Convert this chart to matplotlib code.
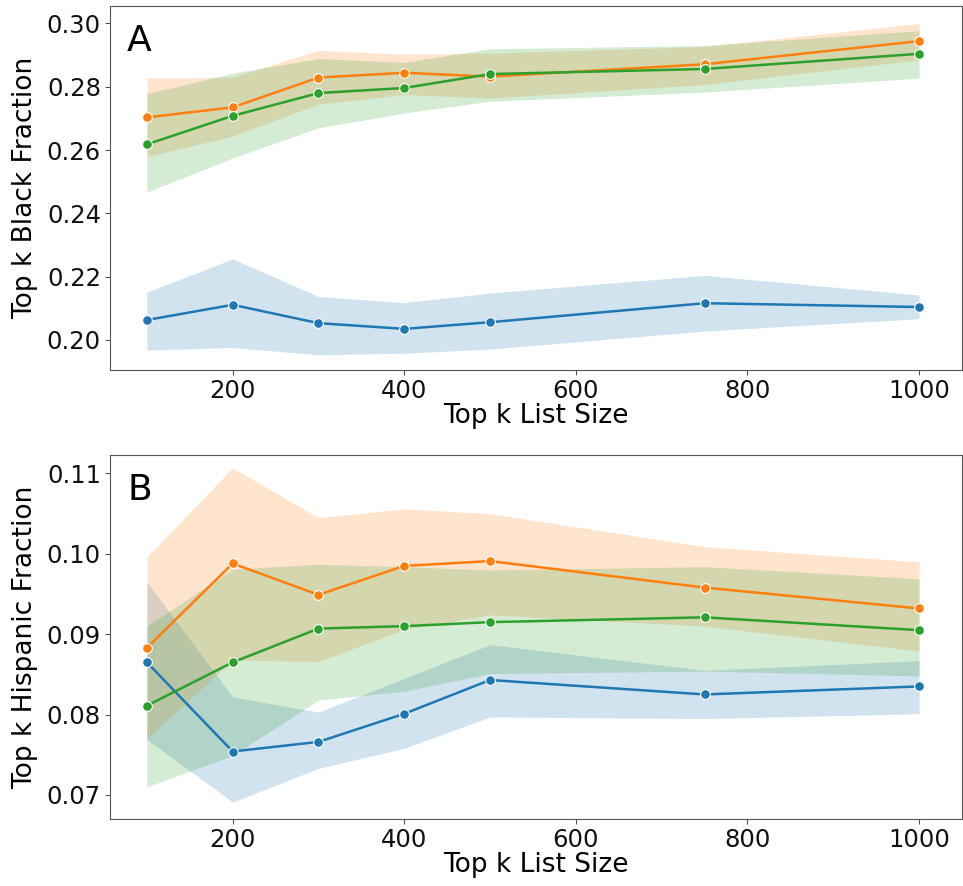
import numpy as np
import matplotlib
matplotlib.use("Agg")
import matplotlib.pyplot as plt

# Top k list sizes
k = [100, 200, 300, 400, 500, 750, 1000]

# Panel A: black fraction (mean, lower, upper)
blk_blue = [0.2063, 0.2111, 0.2053, 0.2035, 0.2056, 0.2116, 0.2104]
blk_blue_lo = [0.1968, 0.1976, 0.1953, 0.1958, 0.1971, 0.2028, 0.2067]
blk_blue_hi = [0.2151, 0.2256, 0.2137, 0.2118, 0.2148, 0.2204, 0.2142]

blk_orange = [0.2703, 0.2735, 0.2829, 0.2844, 0.2832, 0.2871, 0.2944]
blk_orange_lo = [0.2579, 0.2644, 0.2745, 0.2775, 0.2764, 0.2807, 0.2885]
blk_orange_hi = [0.2827, 0.2830, 0.2915, 0.2903, 0.2906, 0.2927, 0.3000]

blk_green = [0.2618, 0.2708, 0.2780, 0.2796, 0.2840, 0.2856, 0.2904]
blk_green_lo = [0.2467, 0.2575, 0.2670, 0.2717, 0.2754, 0.2783, 0.2827]
blk_green_hi = [0.2778, 0.2843, 0.2889, 0.2877, 0.2920, 0.2930, 0.2977]

# Panel B: hispanic fraction
his_blue = [0.0865, 0.0754, 0.0766, 0.0801, 0.0843, 0.0825, 0.0835]
his_blue_lo = [0.0769, 0.0691, 0.0733, 0.0758, 0.0797, 0.0795, 0.0801]
his_blue_hi = [0.0965, 0.0822, 0.0803, 0.0845, 0.0887, 0.0855, 0.0867]

his_orange = [0.0883, 0.0988, 0.0949, 0.0985, 0.0991, 0.0958, 0.0932]
his_orange_lo = [0.0770, 0.0868, 0.0866, 0.0906, 0.0924, 0.0910, 0.0879]
his_orange_hi = [0.0996, 0.1107, 0.1045, 0.1056, 0.1050, 0.1009, 0.0990]

his_green = [0.0811, 0.0865, 0.0907, 0.0910, 0.0915, 0.0921, 0.0905]
his_green_lo = [0.0710, 0.0749, 0.0818, 0.0829, 0.0851, 0.0854, 0.0848]
his_green_hi = [0.0910, 0.0981, 0.0987, 0.0984, 0.0980, 0.0984, 0.0969]

colors = ['#1f77b4', '#ff7f0e', '#2ca02c']

fig = plt.figure(figsize=(9.63, 8.86), dpi=100)
axA = fig.add_axes([110/963, 1-370/886, 852/963, 364/886])
axB = fig.add_axes([110/963, 1-819/886, 852/963, 364/886])


def draw(ax, series, ylabel, letter, yticks):
    for (m, lo, hi), c in zip(series, colors):
        ax.fill_between(k, lo, hi, color=c, alpha=0.2, linewidth=0)
        ax.plot(k, m, color=c, lw=1.8, marker='o', ms=7,
                markeredgecolor='white', markeredgewidth=0.8)
    ax.set_xlim(57, 1050)
    ax.set_xticks([200, 400, 600, 800, 1000])
    ax.set_yticks(yticks)
    ax.set_xlabel('Top k List Size', fontsize=19, labelpad=0)
    ax.set_ylabel(ylabel, fontsize=19, labelpad=6)
    ax.tick_params(labelsize=17.5, colors='#111111', color='#555555', pad=3)
    for s in ax.spines.values():
        s.set_color('#555555')
    ax.text(0.02, 0.95, letter, transform=ax.transAxes, fontsize=26,
            va='top', ha='left')


draw(axA, [(blk_blue, blk_blue_lo, blk_blue_hi),
           (blk_orange, blk_orange_lo, blk_orange_hi),
           (blk_green, blk_green_lo, blk_green_hi)],
     'Top k Black Fraction', 'A', [0.20, 0.22, 0.24, 0.26, 0.28, 0.30])
axA.set_ylim(0.1905, 0.3055)
axA.set_yticklabels(['0.20', '0.22', '0.24', '0.26', '0.28', '0.30'])

draw(axB, [(his_blue, his_blue_lo, his_blue_hi),
           (his_orange, his_orange_lo, his_orange_hi),
           (his_green, his_green_lo, his_green_hi)],
     'Top k Hispanic Fraction', 'B', [0.07, 0.08, 0.09, 0.10, 0.11])
axB.set_ylim(0.0670, 0.1123)
axB.set_yticklabels(['0.07', '0.08', '0.09', '0.10', '0.11'])

fig.savefig('out.png', dpi=100)
